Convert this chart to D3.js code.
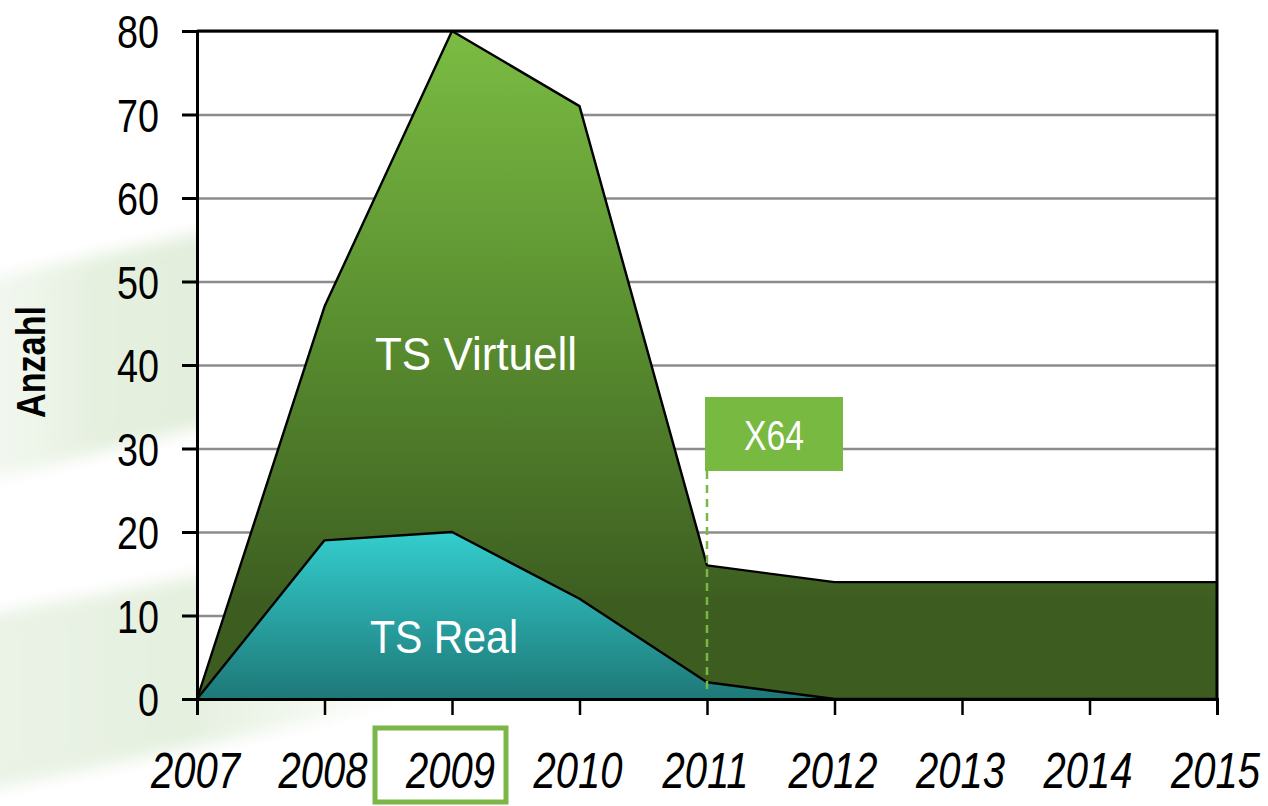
<!DOCTYPE html>
<html>
<head>
<meta charset="utf-8">
<script src="https://cdn.jsdelivr.net/npm/d3@7"></script>
<style>
  body { margin: 0; background: #fff; }
  svg { display: block; }
</style>
</head>
<body>
<div id="chart"></div>
<script>
// data
const years = [2007, 2008, 2009, 2010, 2011, 2012, 2013, 2014, 2015];
const tsReal = [0, 19, 20, 12, 2, 0, 0, 0, 0];
const tsVirtuell = [0, 28, 60, 59, 14, 14, 14, 14, 14];
const yTicks = [0, 10, 20, 30, 40, 50, 60, 70, 80];
const highlightYear = 2009;
const markerYear = 2011;
const markerLabel = "X64";

const width = 1268, height = 806;
const margin = {top: 31, right: 51, bottom: 107, left: 197};

const svg = d3.select("#chart").append("svg")
    .attr("width", width).attr("height", height);

const defs = svg.append("defs");
const gGreen = defs.append("linearGradient").attr("id", "gGreen")
    .attr("gradientUnits", "userSpaceOnUse")
    .attr("x1", 0).attr("x2", 0).attr("y1", margin.top).attr("y2", 610);
gGreen.append("stop").attr("offset", 0).attr("stop-color", "#7bbc43");
gGreen.append("stop").attr("offset", 0.5).attr("stop-color", "#5a8f30");
gGreen.append("stop").attr("offset", 1).attr("stop-color", "#3c5c20");

const gTeal = defs.append("linearGradient").attr("id", "gTeal")
    .attr("gradientUnits", "userSpaceOnUse")
    .attr("x1", 0).attr("x2", 0).attr("y1", 533).attr("y2", 699);
gTeal.append("stop").attr("offset", 0).attr("stop-color", "#34cdcd");
gTeal.append("stop").attr("offset", 1).attr("stop-color", "#1e7878");

// soft swoosh gradients (horizontal)
const sw1 = defs.append("linearGradient").attr("id", "sw1")
    .attr("gradientUnits", "userSpaceOnUse")
    .attr("x1", 0).attr("x2", 200).attr("y1", 0).attr("y2", 0);
sw1.append("stop").attr("offset", 0).attr("stop-color", "#f2f7ef");
sw1.append("stop").attr("offset", 0.5).attr("stop-color", "#e5f0df");
sw1.append("stop").attr("offset", 1).attr("stop-color", "#e3eedc");
const sw2 = defs.append("linearGradient").attr("id", "sw2")
    .attr("gradientUnits", "userSpaceOnUse")
    .attr("x1", 0).attr("x2", 420).attr("y1", 0).attr("y2", 0);
sw2.append("stop").attr("offset", 0).attr("stop-color", "#eaf3e6");
sw2.append("stop").attr("offset", 0.45).attr("stop-color", "#e5f0df");
sw2.append("stop").attr("offset", 1).attr("stop-color", "#ffffff");

const blur = defs.append("filter").attr("id", "soft")
    .attr("x", "-20%").attr("y", "-20%").attr("width", "140%").attr("height", "140%");
blur.append("feGaussianBlur").attr("stdDeviation", 8);

// faint background swooshes
svg.append("path")
    .attr("d", "M-20,281 L230,226 L230,420 L-20,482 Z")
    .attr("fill", "url(#sw1)").attr("filter", "url(#soft)");
svg.append("path")
    .attr("d", "M-20,616 L420,535 L420,698 Q250,735 -20,792 Z")
    .attr("fill", "url(#sw2)").attr("filter", "url(#soft)");

const x = d3.scaleLinear().domain([years[0], years[years.length - 1]])
    .range([margin.left, width - margin.right]);
const y = d3.scaleLinear().domain([0, 80])
    .range([height - margin.bottom, margin.top]);

// plot background
svg.append("rect")
    .attr("x", x.range()[0]).attr("y", y(80))
    .attr("width", x.range()[1] - x.range()[0])
    .attr("height", y(0) - y(80))
    .attr("fill", "#fff");

// gridlines
svg.append("g")
    .attr("transform", `translate(${margin.left},0)`)
    .call(d3.axisLeft(y).tickValues(yTicks.slice(1)).tickSize(-(x.range()[1] - x.range()[0])).tickFormat(""))
    .call(g => g.select(".domain").remove())
    .call(g => g.selectAll("line").attr("stroke", "#8c8c8c").attr("stroke-width", 2.5));

// stacked areas
const rows = years.map((yr, i) => ({year: yr, real: tsReal[i], virtuell: tsVirtuell[i]}));
const series = d3.stack().keys(["real", "virtuell"])(rows);
const area = d3.area().x(d => x(d.data.year)).y0(d => y(d[0])).y1(d => y(d[1]));
const topLine = d3.line().x(d => x(d.data.year)).y(d => y(d[1]));
const fills = {real: "url(#gTeal)", virtuell: "url(#gGreen)"};

svg.append("g").selectAll("path").data(series).join("path")
    .attr("d", area).attr("fill", d => fills[d.key]);
svg.append("g").selectAll("path").data(series).join("path")
    .attr("d", topLine).attr("fill", "none")
    .attr("stroke", "#000").attr("stroke-width", 2.4).attr("stroke-linejoin", "round");

// top and right frame
svg.append("path")
    .attr("d", `M${x.range()[0]},${y(80)} H${x.range()[1]} V${y(0)}`)
    .attr("fill", "none").attr("stroke", "#000").attr("stroke-width", 3);

// area labels
const labelFont = "'Liberation Sans Narrow', 'Arial Narrow', 'Liberation Sans', sans-serif";
svg.append("text").text("TS Virtuell")
    .attr("x", 375).attr("y", 370)
    .attr("textLength", 202).attr("lengthAdjust", "spacingAndGlyphs")
    .attr("font-family", labelFont).attr("font-size", 47).attr("fill", "#fff");
svg.append("text").text("TS Real")
    .attr("x", 370).attr("y", 653)
    .attr("textLength", 148).attr("lengthAdjust", "spacingAndGlyphs")
    .attr("font-family", labelFont).attr("font-size", 47).attr("fill", "#fff");

// X64 marker
svg.append("line")
    .attr("x1", x(markerYear)).attr("x2", x(markerYear))
    .attr("y1", 471).attr("y2", y(0) - 4)
    .attr("stroke", "#7ab648").attr("stroke-width", 2.5).attr("stroke-dasharray", "8,6");
svg.append("rect")
    .attr("x", 705).attr("y", 397).attr("width", 138).attr("height", 74)
    .attr("fill", "#78b941");
svg.append("text").text(markerLabel)
    .attr("x", 774).attr("y", 450).attr("text-anchor", "middle")
    .attr("textLength", 60).attr("lengthAdjust", "spacingAndGlyphs")
    .attr("font-family", labelFont).attr("font-size", 42).attr("fill", "#fff");

// y axis
svg.append("g")
    .attr("transform", `translate(${margin.left},0)`)
    .call(d3.axisLeft(y).tickValues(yTicks).tickSize(15).tickPadding(23))
    .call(g => g.select(".domain").attr("stroke", "#000").attr("stroke-width", 3))
    .call(g => g.selectAll("line").attr("stroke", "#000").attr("stroke-width", 3))
    .call(g => g.selectAll("text")
        .attr("font-family", labelFont).attr("font-size", 47).attr("fill", "#000")
        .attr("textLength", d => String(d).length * 21)
        .attr("lengthAdjust", "spacingAndGlyphs")
        .attr("dy", "0.36em"));

// x axis (labels squeezed horizontally to look condensed)
svg.append("g")
    .attr("transform", `translate(0,${y(0)})`)
    .call(d3.axisBottom(x).tickValues(years).tickFormat(d3.format("d")).tickSize(16).tickPadding(38))
    .call(g => g.select(".domain").attr("stroke", "#000").attr("stroke-width", 3))
    .call(g => g.selectAll("line").attr("stroke", "#000").attr("stroke-width", 2.5))
    .call(g => g.selectAll("text")
        .attr("font-family", labelFont).attr("font-size", 50).attr("font-style", "italic")
        .attr("transform", "translate(-2,0) scale(0.8,1)")
        .attr("fill", "#000"));

// highlight box around 2009
svg.append("rect")
    .attr("x", x(highlightYear) - 77).attr("y", 728)
    .attr("width", 131).attr("height", 74)
    .attr("fill", "none").attr("stroke", "#7ab648").attr("stroke-width", 5);

// y axis title
svg.append("text").text("Anzahl")
    .attr("transform", "translate(45,362) rotate(-90)")
    .attr("text-anchor", "middle")
    .attr("textLength", 112).attr("lengthAdjust", "spacingAndGlyphs")
    .attr("font-family", labelFont).attr("font-weight", "bold")
    .attr("font-size", 41).attr("fill", "#000");
</script>
</body>
</html>
